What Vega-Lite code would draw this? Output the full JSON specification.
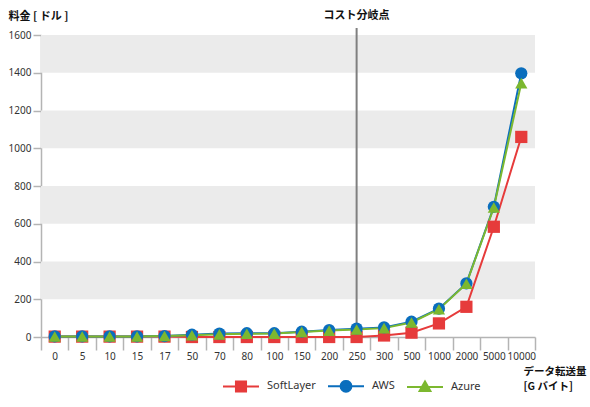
{
  "$schema": "https://vega.github.io/schema/vega-lite/v6.json",
  "width": 494,
  "height": 302,
  "autosize": "none",
  "padding": {"left": 41, "top": 35, "right": 55, "bottom": 70},
  "config": {
    "font": "Noto Sans",
    "view": {"stroke": null},
    "axis": {
      "grid": false,
      "domainColor": "#b4b4b4",
      "domainWidth": 1.5,
      "tickColor": "#b4b4b4",
      "tickWidth": 1.5,
      "labelColor": "#333333",
      "labelFont": "Noto Sans",
      "labelFontSize": 10,
      "titleColor": "#111111",
      "titleFont": "Noto Sans CJK JP",
      "titleFontWeight": "bold"
    },
    "legend": {
      "orient": "none",
      "legendX": 181,
      "legendY": 332,
      "direction": "horizontal",
      "padding": 0,
      "symbolSize": 1296,
      "symbolStrokeWidth": 2,
      "labelFont": "Noto Sans",
      "labelFontSize": 11,
      "labelColor": "#333333",
      "labelOffset": 7,
      "columnPadding": 8
    }
  },
  "datasets": {
    "bands": [
      {"lo": 200, "hi": 400},
      {"lo": 600, "hi": 800},
      {"lo": 1000, "hi": 1200},
      {"lo": 1400, "hi": 1600}
    ],
    "split": [
      {"gb": "250", "bottom": 0, "top": 1637, "label": "コスト分岐点"}
    ],
    "costs": [
      {"gb": "0", "series": "SoftLayer", "v": 2},
      {"gb": "5", "series": "SoftLayer", "v": 2},
      {"gb": "10", "series": "SoftLayer", "v": 2},
      {"gb": "15", "series": "SoftLayer", "v": 2},
      {"gb": "17", "series": "SoftLayer", "v": 2},
      {"gb": "50", "series": "SoftLayer", "v": 0},
      {"gb": "70", "series": "SoftLayer", "v": 0},
      {"gb": "80", "series": "SoftLayer", "v": 0},
      {"gb": "100", "series": "SoftLayer", "v": 0},
      {"gb": "150", "series": "SoftLayer", "v": 0},
      {"gb": "200", "series": "SoftLayer", "v": 0},
      {"gb": "250", "series": "SoftLayer", "v": 0},
      {"gb": "300", "series": "SoftLayer", "v": 8},
      {"gb": "500", "series": "SoftLayer", "v": 23},
      {"gb": "1000", "series": "SoftLayer", "v": 72},
      {"gb": "2000", "series": "SoftLayer", "v": 160},
      {"gb": "5000", "series": "SoftLayer", "v": 584},
      {"gb": "10000", "series": "SoftLayer", "v": 1060},
      {"gb": "0", "series": "AWS", "v": 3},
      {"gb": "5", "series": "AWS", "v": 3},
      {"gb": "10", "series": "AWS", "v": 3},
      {"gb": "15", "series": "AWS", "v": 3},
      {"gb": "17", "series": "AWS", "v": 5},
      {"gb": "50", "series": "AWS", "v": 12},
      {"gb": "70", "series": "AWS", "v": 18},
      {"gb": "80", "series": "AWS", "v": 20},
      {"gb": "100", "series": "AWS", "v": 20},
      {"gb": "150", "series": "AWS", "v": 28},
      {"gb": "200", "series": "AWS", "v": 37},
      {"gb": "250", "series": "AWS", "v": 44},
      {"gb": "300", "series": "AWS", "v": 51},
      {"gb": "500", "series": "AWS", "v": 81},
      {"gb": "1000", "series": "AWS", "v": 150},
      {"gb": "2000", "series": "AWS", "v": 284},
      {"gb": "5000", "series": "AWS", "v": 690},
      {"gb": "10000", "series": "AWS", "v": 1397},
      {"gb": "0", "series": "Azure", "v": 3},
      {"gb": "5", "series": "Azure", "v": 3},
      {"gb": "10", "series": "Azure", "v": 3},
      {"gb": "15", "series": "Azure", "v": 3},
      {"gb": "17", "series": "Azure", "v": 5},
      {"gb": "50", "series": "Azure", "v": 9},
      {"gb": "70", "series": "Azure", "v": 14},
      {"gb": "80", "series": "Azure", "v": 17},
      {"gb": "100", "series": "Azure", "v": 18},
      {"gb": "150", "series": "Azure", "v": 27},
      {"gb": "200", "series": "Azure", "v": 34},
      {"gb": "250", "series": "Azure", "v": 40},
      {"gb": "300", "series": "Azure", "v": 47},
      {"gb": "500", "series": "Azure", "v": 77},
      {"gb": "1000", "series": "Azure", "v": 147},
      {"gb": "2000", "series": "Azure", "v": 282},
      {"gb": "5000", "series": "Azure", "v": 686},
      {"gb": "10000", "series": "Azure", "v": 1345}
    ]
  },
  "layer": [
    {
      "data": {"name": "bands"},
      "mark": {"type": "rect", "color": "#ebebeb"},
      "encoding": {
        "y": {
          "field": "lo",
          "type": "quantitative",
          "scale": {"domain": [0, 1600], "nice": false},
          "axis": {
            "values": [0, 200, 400, 600, 800, 1000, 1200, 1400, 1600],
            "tickCount": 10,
            "format": "d",
            "labelOverlap": false,
            "tickSize": 8,
            "labelPadding": 2,
            "title": "料金 [ ドル ]",
            "titleAngle": 0,
            "titleAlign": "left",
            "titleBaseline": "middle",
            "titleX": -33,
            "titleY": -19,
            "titleFontSize": 11
          }
        },
        "y2": {"field": "hi"}
      }
    },
    {
      "data": {"name": "split"},
      "mark": {"type": "rule", "color": "#7f7f7f", "strokeWidth": 2, "clip": false},
      "encoding": {
        "x": {
          "field": "gb",
          "type": "ordinal",
          "scale": {
            "type": "band",
            "paddingInner": 0,
            "paddingOuter": 0,
            "domain": ["0", "5", "10", "15", "17", "50", "70", "80", "100", "150", "200", "250", "300", "500", "1000", "2000", "5000", "10000"]
          },
          "axis": {
            "labelAngle": 0,
            "labelOverlap": false,
            "tickBand": "extent",
            "tickSize": 13,
            "labelPadding": 1,
            "title": ["データ転送量", "[G バイト]"],
            "titleX": 482,
            "titleY": 29,
            "titleAlign": "left",
            "titleBaseline": "top",
            "titleFontSize": 10.5,
            "titleLineHeight": 15
          }
        },
        "y": {"field": "bottom", "type": "quantitative"},
        "y2": {"field": "top"}
      }
    },
    {
      "data": {"name": "split"},
      "mark": {"type": "text", "font": "Noto Sans CJK JP", "fontWeight": "bold", "fontSize": 11, "color": "#111111", "dy": -12},
      "encoding": {
        "x": {"field": "gb", "type": "ordinal"},
        "y": {"field": "top", "type": "quantitative"},
        "text": {"field": "label"}
      }
    },
    {
      "data": {"name": "costs"},
      "mark": {"type": "line", "strokeWidth": 2},
      "encoding": {
        "x": {"field": "gb", "type": "ordinal"},
        "y": {"field": "v", "type": "quantitative"},
        "color": {
          "field": "series",
          "type": "nominal",
          "scale": {"domain": ["SoftLayer", "AWS", "Azure"], "range": ["#E63B3B", "#0A6EBD", "#7CB82F"]},
          "legend": null
        }
      }
    },
    {
      "data": {"name": "costs"},
      "mark": {"type": "point", "filled": true, "opacity": 1, "size": 150},
      "encoding": {
        "x": {"field": "gb", "type": "ordinal"},
        "y": {"field": "v", "type": "quantitative"},
        "color": {"field": "series", "type": "nominal", "legend": null},
        "shape": {
          "field": "series",
          "type": "nominal",
          "scale": {"domain": ["SoftLayer", "AWS", "Azure"], "range": ["square", "circle", "triangle-up"]},
          "legend": null
        }
      }
    },
    {
      "data": {"name": "costs"},
      "transform": [{"filter": "false"}],
      "mark": {"type": "point", "filled": true, "opacity": 1, "strokeWidth": 2, "size": 1296},
      "encoding": {
        "x": {"field": "gb", "type": "ordinal"},
        "y": {"field": "v", "type": "quantitative"},
        "fill": {
          "field": "series",
          "type": "nominal",
          "scale": {"domain": ["SoftLayer", "AWS", "Azure"], "range": ["#E63B3B", "#0A6EBD", "#7CB82F"]},
          "legend": {"title": null}
        },
        "stroke": {
          "field": "series",
          "type": "nominal",
          "scale": {"domain": ["SoftLayer", "AWS", "Azure"], "range": ["#E63B3B", "#0A6EBD", "#7CB82F"]},
          "legend": {"title": null}
        },
        "shape": {
          "field": "series",
          "type": "nominal",
          "scale": {
            "domain": ["SoftLayer", "AWS", "Azure"],
            "range": [
              "M-1,0H1M-0.28,-0.28H0.28V0.28H-0.28Z",
              "M-1,0H1M0.3,0L0.277,0.115L0.212,0.212L0.115,0.277L0,0.3L-0.115,0.277L-0.212,0.212L-0.277,0.115L-0.3,0L-0.277,-0.115L-0.212,-0.212L-0.115,-0.277L0,-0.3L0.115,-0.277L0.212,-0.212L0.277,-0.115Z",
              "M-1,0H1M0,-0.3L0.3,0.22H-0.3Z"
            ]
          },
          "legend": {"title": null}
        }
      }
    }
  ],
  "resolve": {"scale": {"shape": "independent", "fill": "independent", "stroke": "independent"}}
}
